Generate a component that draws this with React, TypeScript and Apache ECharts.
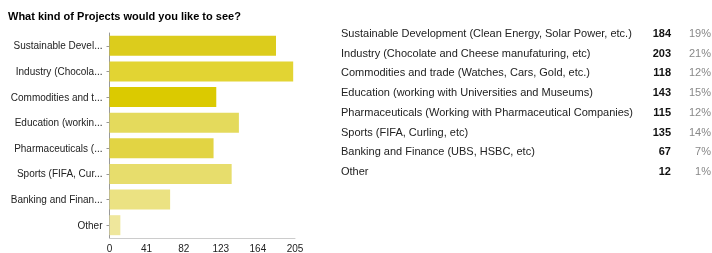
import React, { useEffect, useRef } from "react";
import * as echarts from "echarts";

const title = "What kind of Projects would you like to see?";
const fullNames = [
  "Sustainable Development (Clean Energy, Solar Power, etc.)",
  "Industry (Chocolate and Cheese manufaturing, etc)",
  "Commodities and trade (Watches, Cars, Gold, etc.)",
  "Education (working with Universities and Museums)",
  "Pharmaceuticals (Working with Pharmaceutical Companies)",
  "Sports (FIFA, Curling, etc)",
  "Banking and Finance (UBS, HSBC, etc)",
  "Other",
];
const shortLabels = [
  "Sustainable Devel...",
  "Industry (Chocola...",
  "Commodities and t...",
  "Education (workin...",
  "Pharmaceuticals (...",
  "Sports (FIFA, Cur...",
  "Banking and Finan...",
  "Other",
];
const counts = [184, 203, 118, 143, 115, 135, 67, 12];
const percents = ["19%", "21%", "12%", "15%", "12%", "14%", "7%", "1%"];
const barColors = ["#dccc1c", "#e2d433", "#dbca00", "#e4da5c", "#e2d443", "#e7dd6c", "#ebe282", "#efe79c"];
const xMin = 0;
const xMax = 205;
const xInterval = 41;

export default function App() {
  const ref = useRef<HTMLDivElement>(null);
  useEffect(() => {
    if (!ref.current) return;
    const chart = echarts.init(ref.current, null, { renderer: "svg" });
    const font = "Arial, 'Liberation Sans', sans-serif";
    const rowTop = 33;
    const rowStep = 19.7;
    const graphics: any[] = [
      {
        type: "text",
        left: 8,
        top: 10,
        style: { text: title, fontFamily: font, fontSize: 11, fontWeight: "bold", fill: "#000" },
      },
    ];
    fullNames.forEach((name, i) => {
      const y = rowTop + i * rowStep;
      graphics.push({
        type: "text",
        x: 341,
        y,
        style: { text: name, fontFamily: font, fontSize: 11, fill: "#222", verticalAlign: "middle", align: "left" },
      });
      graphics.push({
        type: "text",
        x: 671,
        y,
        style: { text: String(counts[i]), fontFamily: font, fontSize: 11, fontWeight: "bold", fill: "#111", verticalAlign: "middle", align: "right" },
      });
      graphics.push({
        type: "text",
        x: 711,
        y,
        style: { text: percents[i], fontFamily: font, fontSize: 11, fill: "#888", verticalAlign: "middle", align: "right" },
      });
    });
    chart.setOption({
      animation: false,
      textStyle: { fontFamily: font },
      grid: { left: 109.5, right: 417, top: 33, bottom: 15, containLabel: false },
      xAxis: {
        type: "value",
        min: xMin,
        max: xMax,
        interval: xInterval,
        splitLine: { show: false },
        axisLine: { show: true, lineStyle: { color: "#ccc" } },
        axisTick: { show: false },
        axisLabel: { color: "#222", fontSize: 10, margin: 5 },
      },
      yAxis: {
        type: "category",
        inverse: true,
        data: shortLabels,
        axisLine: { show: true, lineStyle: { color: "#999" } },
        axisTick: { show: true, alignWithLabel: true, length: 3, lineStyle: { color: "#999" } },
        axisLabel: { color: "#222", fontSize: 10, margin: 7 },
      },
      series: [
        {
          type: "bar",
          barCategoryGap: "22%",
          data: counts.map((v, i) => ({ value: v, itemStyle: { color: barColors[i] } })),
        },
      ],
      graphic: graphics,
    });
    return () => chart.dispose();
  }, []);
  return <div ref={ref} style={{ position: "fixed", left: 0, top: 0, width: 712, height: 253 }} />;
}
